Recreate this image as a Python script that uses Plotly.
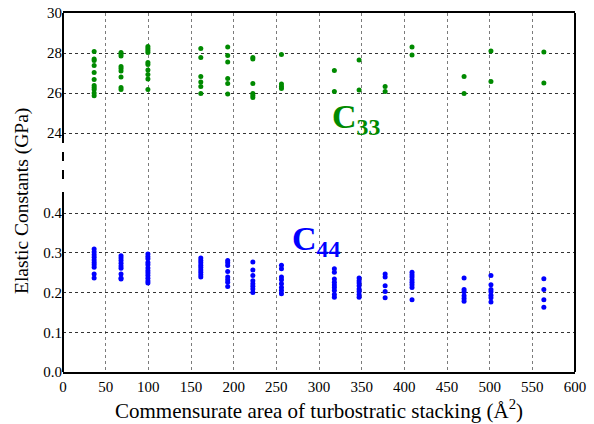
import plotly.graph_objects as go

# ---- data ----
areas = [36.5, 68, 99.5, 161.5, 193, 222.5, 256, 318, 347, 377.5, 409, 470, 501.5, 563.5]

c33_values = [
    [28.07, 27.7, 27.62, 27.37, 27.03, 26.67, 26.38, 26.28, 26.18, 26.0, 25.86],
    [28.03, 27.95, 27.85, 27.32, 27.22, 27.1, 26.8, 26.28, 26.17],
    [28.32, 28.23, 28.12, 28.02, 27.53, 27.43, 27.15, 26.93, 26.7, 26.18],
    [28.22, 27.77, 26.82, 26.55, 26.33, 25.98],
    [28.3, 27.88, 27.55, 26.73, 26.47, 25.95],
    [27.78, 27.7, 26.47, 25.97, 25.88, 25.78],
    [27.93, 26.45, 26.33, 26.23],
    [27.12, 26.08],
    [27.65, 26.15],
    [26.33, 26.07],
    [28.3, 27.9],
    [26.83, 25.98],
    [28.1, 26.58],
    [28.05, 26.5],
]

c44_values = [
    [0.310, 0.302, 0.295, 0.289, 0.282, 0.276, 0.270, 0.264, 0.247, 0.237],
    [0.293, 0.287, 0.281, 0.274, 0.267, 0.261, 0.247, 0.237, 0.234],
    [0.297, 0.291, 0.285, 0.276, 0.270, 0.262, 0.255, 0.249, 0.243, 0.236, 0.229, 0.224],
    [0.287, 0.281, 0.275, 0.269, 0.263, 0.257, 0.251, 0.245, 0.239],
    [0.281, 0.275, 0.268, 0.253, 0.239, 0.232, 0.226, 0.215],
    [0.277, 0.257, 0.243, 0.230, 0.222, 0.216, 0.209, 0.200],
    [0.269, 0.260, 0.239, 0.232, 0.222, 0.213, 0.205, 0.197],
    [0.260, 0.251, 0.234, 0.226, 0.219, 0.213, 0.205, 0.195, 0.188],
    [0.237, 0.230, 0.224, 0.217, 0.209, 0.203, 0.195, 0.188],
    [0.247, 0.239, 0.217, 0.203, 0.187],
    [0.251, 0.245, 0.239, 0.232, 0.226, 0.220, 0.213, 0.182],
    [0.237, 0.208, 0.202, 0.192, 0.185, 0.178],
    [0.243, 0.220, 0.208, 0.202, 0.193, 0.187, 0.176],
    [0.235, 0.208, 0.182, 0.163],
]

x_ticks = [0, 50, 100, 150, 200, 250, 300, 350, 400, 450, 500, 550, 600]
low_ticks = [0.0, 0.1, 0.2, 0.3, 0.4]
low_labels = ["0.0", "0.1", "0.2", "0.3", "0.4"]
high_ticks = [24, 26, 28, 30]
high_labels = ["24", "26", "28", "30"]

# ---- flatten ----
x33, y33, x44, y44 = [], [], [], []
for a, vals in zip(areas, c33_values):
    x33 += [a] * len(vals)
    y33 += vals
for a, vals in zip(areas, c44_values):
    x44 += [a] * len(vals)
    y44 += vals

GREEN = "#008a00"
BLUE = "#0000ff"
FONT = "Liberation Serif"

fig = go.Figure()
fig.add_trace(go.Scatter(x=x44, y=y44, mode="markers", yaxis="y",
                         marker=dict(color=BLUE, size=5), showlegend=False))
fig.add_trace(go.Scatter(x=x33, y=y33, mode="markers", yaxis="y2",
                         marker=dict(color=GREEN, size=5), showlegend=False))

xgrid = dict(showgrid=True, gridcolor="rgba(90,90,90,0.8)", griddash="dot", gridwidth=1)
ygrid = dict(showgrid=True, gridcolor="rgba(30,30,30,0.9)", griddash="dot", gridwidth=1)

fig.update_layout(
    width=594, height=424,
    margin=dict(l=63, r=19, t=13, b=52),
    paper_bgcolor="white", plot_bgcolor="white",
    font=dict(family=FONT, size=15, color="black"),
    xaxis=dict(range=[0, 600], tickvals=x_ticks, ticks="", zeroline=False,
               automargin=False, ticklabelstandoff=0, ticklabeloverflow="allow",
               showline=True, mirror=True, linecolor="black", linewidth=2,
               **xgrid),
    yaxis=dict(range=[0, 0.904], tickvals=low_ticks, ticktext=low_labels, ticks="",
               zeroline=False, showline=False, automargin=False,
               ticklabeloverflow="allow",
               **ygrid),
    yaxis2=dict(range=[12.05, 30], tickvals=high_ticks, ticktext=high_labels, ticks="",
                overlaying="y", side="left", zeroline=False, showline=False,
                automargin=False, ticklabeloverflow="allow",
                **ygrid),
)

line = dict(color="black", width=2)
shapes = [
    # right border
    dict(type="line", xref="paper", yref="paper", x0=1, x1=1, y0=0, y1=1, line=line),
    # broken left axis
    dict(type="line", xref="paper", yref="y2", x0=0, x1=0, y0=30, y1=23.5, line=line),
    dict(type="line", xref="paper", yref="y2", x0=0, x1=0, y0=23.05, y1=21.55,
         line=dict(color="black", width=2, dash="dash")),
    dict(type="line", xref="paper", yref="y", x0=0, x1=0, y0=0.453, y1=0, line=line),
]
fig.update_layout(shapes=shapes)

# axis titles
fig.add_annotation(x=0.5, y=-0.104, xref="paper", yref="paper", showarrow=False,
                   yanchor="middle",
                   text="Commensurate area of turbostratic stacking (Å<sup>2</sup>)",
                   font=dict(family=FONT, size=21))
fig.add_annotation(x=-41 / 512, y=(372 - 201) / 359, xref="paper", yref="paper",
                   showarrow=False, textangle=-90, xanchor="center", yanchor="middle",
                   text="Elastic Constants (GPa)",
                   font=dict(family=FONT, size=19.5))

fig.add_annotation(x=343, y=24.7, xref="x", yref="y2", showarrow=False,
                   text="<b>C<sub>33</sub></b>",
                   font=dict(family=FONT, size=34, color=GREEN))
fig.add_annotation(x=296, y=0.330, xref="x", yref="y", showarrow=False,
                   text="<b>C<sub>44</sub></b>",
                   font=dict(family=FONT, size=34, color=BLUE))

fig.write_html("out.html", config={"displayModeBar": False},
               post_script="document.body.style.margin='0';")
